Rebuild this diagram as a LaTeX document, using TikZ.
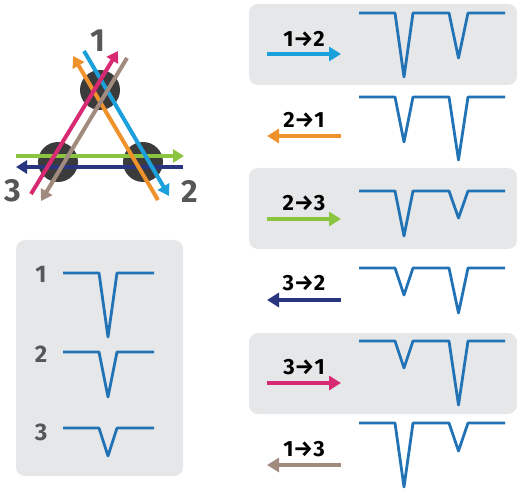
\documentclass[tikz,border=0pt]{standalone}
\usepackage{fontspec}
\setmainfont{Fira Sans}
\usetikzlibrary{arrows.meta}
\definecolor{panel}{HTML}{E6E7E8}
\definecolor{wave}{HTML}{2272B6}
\definecolor{cblue}{HTML}{1CA0DC}
\definecolor{corange}{HTML}{F0922C}
\definecolor{cgreen}{HTML}{8BC540}
\definecolor{cnavy}{HTML}{2A3580}
\definecolor{cpink}{HTML}{D82A72}
\definecolor{cbrown}{HTML}{A18A7E}
\definecolor{cdisk}{HTML}{3B3B3B}
\definecolor{clabel}{HTML}{555759}
\tikzset{
  panelbox/.style={fill=panel, rounded corners=9pt, draw=none},
  wavepath/.style={draw=wave, line width=2.8pt, line join=round},
  bigarrow/.style={line width=4.5pt, -{Triangle[length=12pt,width=14pt]}},
  tarrow/.style={line width=4pt, -{Triangle[length=11pt,width=13pt]}},
  disk/.style={circle, fill=cdisk, minimum size=40pt, inner sep=0pt},
  trilabel/.style={text=clabel, font=\fontsize{32}{32}\selectfont\bfseries, inner sep=0pt},
  sidelabel/.style={text=clabel, font=\fontsize{24}{24}\selectfont\bfseries, inner sep=0pt},
  dirlabel/.style={text=black, font=\fontsize{22}{22}\selectfont\bfseries, inner sep=0pt},
}
\newcommand{\rowwave}[3]{%
  \draw[wavepath] (359,#1) -- (395,#1) -- (404,#1+#2) -- (413,#1) -- (449,#1) -- (458.5,#1+#3) -- (468,#1) -- (505,#1);}
\begin{document}
\begin{tikzpicture}[x=1pt,y=-1pt]
\useasboundingbox (0,0) rectangle (517,489);
% panels
\path[panelbox] (249,4) rectangle (517,85);
\path[panelbox] (249,168) rectangle (517,249);
\path[panelbox] (249,333) rectangle (517,414);
\path[panelbox] (16,240) rectangle (183,476);

% triangle disks
\node[disk] (d1) at (100,90) {};
\node[disk] (d3) at (58,162) {};
\node[disk] (d2) at (143,162) {};
\node[trilabel] (l1) at (98,41) {1};
\node[trilabel] (l3) at (13,191) {3};
\node[trilabel] (l2) at (190,191) {2};

% triangle arrows
\coordinate (g0) at (16,156); \coordinate (g1) at (184,156);
\coordinate (n0) at (183,167); \coordinate (n1) at (16,167);
\coordinate (b0) at (84,51); \coordinate (b1) at (169,196);
\coordinate (o0) at (158,200); \coordinate (o1) at (73,56);
\coordinate (p0) at (31,194); \coordinate (p1) at (118,51);
\coordinate (r0) at (127,58); \coordinate (r1) at (41,201);
\draw[tarrow, cgreen] (g0) -- (g1);
\draw[tarrow, cnavy] (n0) -- (n1);
\draw[tarrow, corange] (o0) -- (o1);
\draw[tarrow, cblue] (b0) -- (b1);
\draw[tarrow, cpink] (p0) -- (p1);
\draw[tarrow, cbrown] (r0) -- (r1);

% left legend
\node[sidelabel] (s1) at (41,274) {1};
\node[sidelabel] (s2) at (41,354) {2};
\node[sidelabel] (s3) at (41,432) {3};
\draw[wavepath] (63,273) -- (99,273) -- (108,337) -- (117,273) -- (154,273);
\draw[wavepath] (63,352) -- (99,352) -- (108,397) -- (117,352) -- (154,352);
\draw[wavepath] (63,428) -- (99,428) -- (108,456) -- (117,428) -- (154,428);

% right rows
\rowwave{13}{64}{45}
\rowwave{97}{45}{63}
\rowwave{191}{45}{27}
\rowwave{268}{27}{45}
\rowwave{341}{27}{64}
\rowwave{423}{64}{28}

% direction arrows and labels
\node[dirlabel] (t12) at (304,39) {1→2};
\node[dirlabel] (t21) at (304,120) {2→1};
\node[dirlabel] (t23) at (304,203) {2→3};
\node[dirlabel] (t32) at (304,283) {3→2};
\node[dirlabel] (t31) at (304,367) {3→1};
\node[dirlabel] (t13) at (304,449) {1→3};
\coordinate (a12s) at (267,54);  \coordinate (a12e) at (341,54);
\coordinate (a21s) at (341,136); \coordinate (a21e) at (267,136);
\coordinate (a23s) at (267,219); \coordinate (a23e) at (341,219);
\coordinate (a32s) at (341,300); \coordinate (a32e) at (267,300);
\coordinate (a31s) at (267,383); \coordinate (a31e) at (341,383);
\coordinate (a13s) at (341,465); \coordinate (a13e) at (267,465);
\draw[bigarrow, cblue] (a12s) -- (a12e);
\draw[bigarrow, corange] (a21s) -- (a21e);
\draw[bigarrow, cgreen] (a23s) -- (a23e);
\draw[bigarrow, cnavy] (a32s) -- (a32e);
\draw[bigarrow, cpink] (a31s) -- (a31e);
\draw[bigarrow, cbrown] (a13s) -- (a13e);
\end{tikzpicture}
\end{document}
